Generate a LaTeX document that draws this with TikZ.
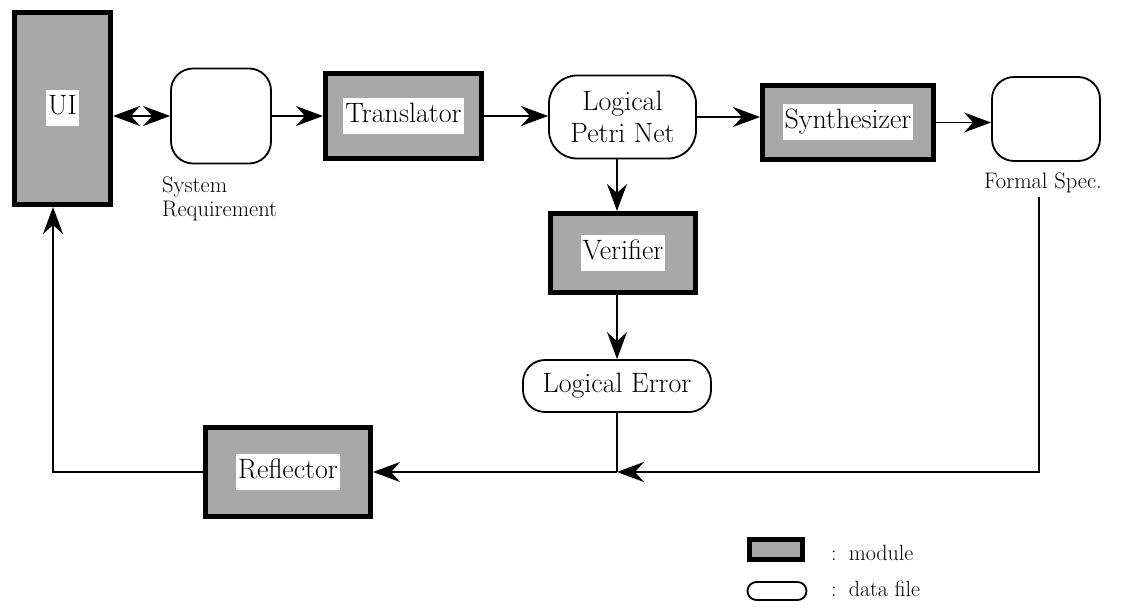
\documentclass[tikz,border=0pt]{standalone}
\usepackage{fontspec}
\usetikzlibrary{arrows.meta}
\definecolor{modfill}{gray}{0.66}
% white patch behind a module's name
\newcommand{\whitelabel}[1]{{\setlength{\fboxsep}{2pt}\colorbox{white}{\strut#1}}}

\begin{document}
\begin{tikzpicture}[x=1pt,y=-1pt,
  module/.style={draw=black, line width=5pt, fill=modfill, inner sep=0pt,
    font=\fontsize{28}{32}\selectfont},
  datafile/.style={draw=black, line width=1.8pt, fill=white, rounded corners=22pt,
    inner sep=0pt, align=center, font=\fontsize{28}{32}\selectfont},
  smalltext/.style={inner sep=0pt, font=\fontsize{22.5}{24}\selectfont},
  legtext/.style={inner sep=0pt, font=\fontsize{22}{24}\selectfont},
  conn/.style={line width=1.8pt},
  tip/.tip={Stealth[length=27pt,width=20pt,inset=9pt]},
  arr/.style={conn, -tip},
  dblarr/.style={conn, tip-tip}
]
\useasboundingbox (0,0) rectangle (1125,609);

% modules and data files
\node[module, minimum width=96pt, minimum height=192pt] (ui) at (62.5,108.5) {\whitelabel{UI}};
\node[datafile, minimum width=100pt, minimum height=95pt] (sr) at (221,116) {};
\node[module, minimum width=156pt, minimum height=85pt] (tr) at (403.5,116) {\whitelabel{Translator}};
\node[datafile, minimum width=147pt, minimum height=83pt, rounded corners=28pt] (lpn) at (622.5,117) {Logical\\Petri Net};
\node[module, minimum width=171pt, minimum height=74pt] (syn) at (848,122.5) {\whitelabel{Synthesizer}};
\node[datafile, minimum width=108pt, minimum height=84pt] (fs) at (1046,119) {};
\node[module, minimum width=145pt, minimum height=79pt] (ver) at (623,253) {\whitelabel{Verifier}};
\node[datafile, minimum width=188pt, minimum height=52pt, rounded corners=22pt] (le) at (617,386) {Logical Error};
\node[module, minimum width=165pt, minimum height=88pt] (refl) at (288,472) {\whitelabel{Reflector}};

% captions of the unnamed data files
\node[smalltext, anchor=west, align=left] (srlab) at (162,199) {System\\Requirement};
\node[smalltext] (fslab) at (1043,183) {Formal Spec.};

% flow along the top row
\draw[dblarr] (sr.west -| ui.east) -- (sr.west);
\draw[arr] (sr.east) -- (sr.east -| tr.west);
\draw[arr] (tr.east) -- (tr.east -| lpn.west);
\draw[arr] (lpn.east) -- (lpn.east -| syn.west);
\draw[arr] (syn.east) -- (syn.east -| fs.west);

% verification branch
\draw[arr] (le.north |- lpn.south) -- (le.north |- ver.north);
\draw[arr] (le.north |- ver.south) -- (le.north);

% feedback loop
\coordinate (j1) at (le.south |- refl.east);
\draw[conn] (le.south) -- (j1);
\draw[arr] ([xshift=-4pt,yshift=-4pt]fslab.south) |- (j1);
\draw[arr] (j1) -- (refl.east);
\draw[arr] (refl.west) -| ([xshift=-9.5pt]ui.south);

% legend
\node[module, minimum width=53pt, minimum height=20pt] (legmod) at (776,549.5) {};
\node[datafile, minimum width=59pt, minimum height=18pt, rounded corners=9pt] (legdata) at (777,591) {};
\node[legtext, anchor=west] (legmodtxt) at (831,553) {:\hspace{0.55em}module};
\node[legtext, anchor=west] (legdatatxt) at (831,589) {:\hspace{0.55em}data file};
\end{tikzpicture}
\end{document}
